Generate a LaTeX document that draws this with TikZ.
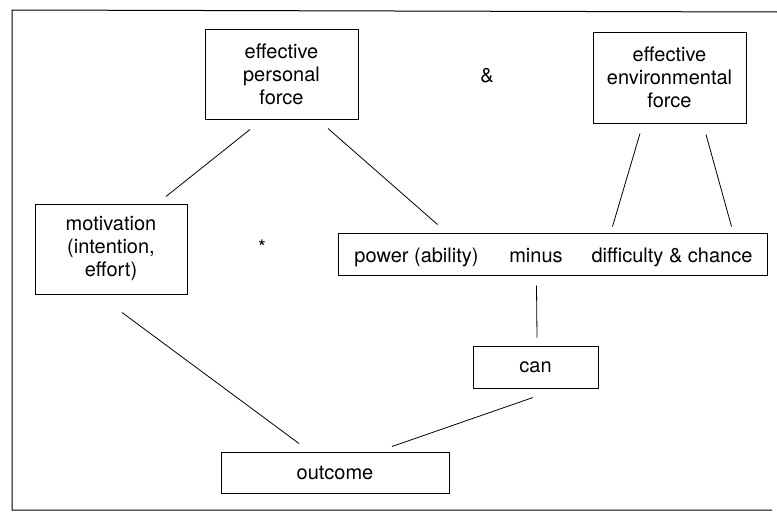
\documentclass[tikz,border=0pt]{standalone}
\usepackage{fontspec}
\setmainfont{TeX Gyre Heros}
\usetikzlibrary{calc}
\begin{document}
\begin{tikzpicture}[x=1pt,y=-1pt,
  txt/.style={font=\fontsize{20}{23}\selectfont},
  box/.style={draw,line width=1pt,inner sep=0pt,align=center,txt},
  lbl/.style={inner sep=0pt,txt},
  link/.style={line width=0.8pt}]
\useasboundingbox (0,0) rectangle (777,514);
% frame
\draw[line width=1pt] (777,12) -- (12,10) -- (12,510) -- (772,510);
% boxes
\node[box,minimum width=153,minimum height=90] (epf) at (281.5,74) {effective\\personal\\force};
\node[box,minimum width=153,minimum height=91] (env) at (669.5,77.5) {effective\\environmental\\force};
\node[box,minimum width=152,minimum height=90] (mot) at (111,249) {motivation\\(intention,\\effort)};
\node[box,minimum width=429,minimum height=42] (pm) at (552.5,254) {};
\node[lbl,anchor=base] (pow) at (416.5,262) {power (ability)};
\node[lbl,anchor=base] (minus) at (536,262) {minus};
\node[lbl,anchor=base] (diff) at (672,262) {difficulty \& chance};
\node[box,minimum width=125,minimum height=42] (can) at (535.5,367) {can};
\node[box,minimum width=228,minimum height=41] (out) at (335,472.5) {outcome};
\node[lbl] (amp) at (487,76) {\&};
\node[lbl] (star) at (262,247) {*};
% connectors
\draw[link] ($(epf.south)+(-31.5,10)$) -- ($(mot.north)+(55,-7)$);
\draw[link] ($(epf.south)+(46.5,9)$) -- ($(pm.north west)+(100,-8)$);
\draw[link] ($(env.south)+(-29.5,10)$) -- ($(pm.north west)+(275,-6)$);
\draw[link] ($(env.south)+(36.5,11)$) -- ($(pm.north west)+(394,-6)$);
\draw[link] ($(pm.south west)+(199,10)$) -- ($(can.north)+(1.5,-8)$);
\draw[link] ($(mot.south)+(11,18)$) -- ($(out.north)+(-36,-8)$);
\draw[link] ($(can.south)+(-2.5,9)$) -- ($(out.north)+(57,-5)$);
\end{tikzpicture}
\end{document}
